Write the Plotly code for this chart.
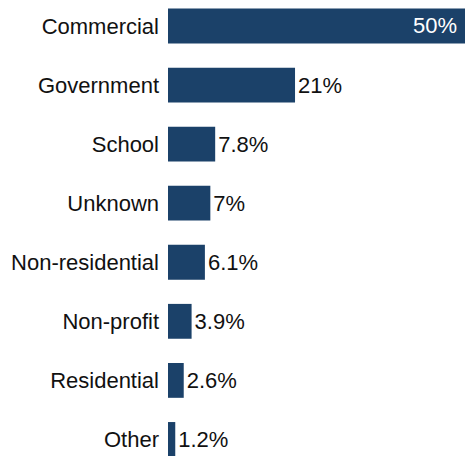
import plotly.graph_objects as go

# Share of sites by ownership type
categories = ["Commercial", "Government", "School", "Unknown",
              "Non-residential", "Non-profit", "Residential", "Other"]
shares = [50, 21, 7.8, 7, 6.1, 3.9, 2.6, 1.2]
share_labels = ["50%", "21%", "7.8%", "7%", "6.1%", "3.9%", "2.6%", "1.2%"]

bar_color = "#1b4169"
font_family = "Liberation Sans, Arial, Helvetica, sans-serif"
font_size = 22
x_max = 49.1

# Bars running past the visible x range get their label inside, at the right edge
inside = [v > x_max for v in shares]
bar_text = ["" if flag else lab for flag, lab in zip(inside, share_labels)]

fig = go.Figure(
    go.Bar(
        x=shares,
        y=categories,
        orientation="h",
        marker=dict(color=bar_color, line=dict(width=0)),
        width=0.59,
        text=bar_text,
        textposition="outside",
        textfont=dict(family=font_family, size=font_size, color="#111111"),
        cliponaxis=False,
    )
)

for flag, cat, lab in zip(inside, categories, share_labels):
    if flag:
        fig.add_annotation(
            x=x_max, y=cat, xref="x", yref="y",
            text=lab, showarrow=False,
            xanchor="right", yanchor="middle",
            xshift=-6,
            font=dict(family=font_family, size=font_size, color="white"),
        )

fig.update_layout(
    width=465,
    height=456,
    margin=dict(l=168, r=0, t=0, b=0),
    paper_bgcolor="white",
    plot_bgcolor="white",
    showlegend=False,
    font=dict(family=font_family, size=font_size, color="#111111"),
)

fig.update_xaxes(
    range=[0, x_max],
    visible=False,
    showgrid=False,
    zeroline=False,
)

fig.update_yaxes(
    categoryorder="array",
    categoryarray=categories,
    range=[7.28, -0.44],
    showgrid=False,
    zeroline=False,
    showline=False,
    ticks="",
    ticklabelstandoff=8,
    tickfont=dict(family=font_family, size=font_size, color="#111111"),
)

fig.write_html("out.html")
